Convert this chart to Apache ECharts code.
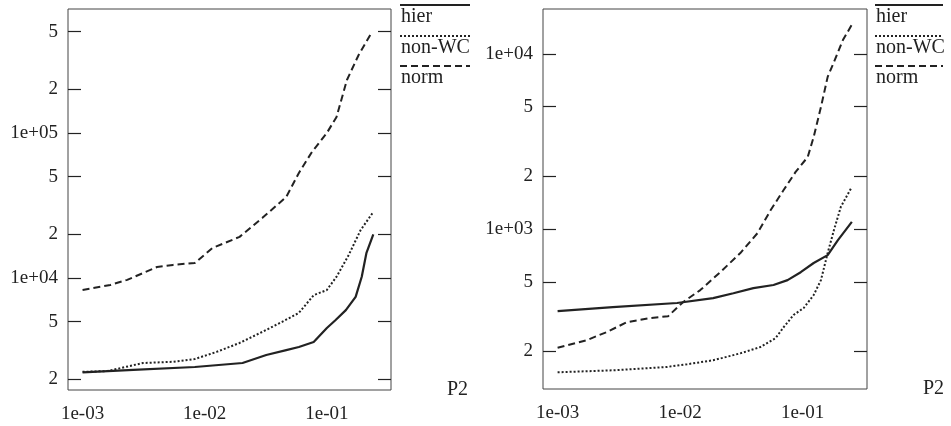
<!DOCTYPE html>
<html>
<head>
<meta charset="utf-8">
<script src="https://cdn.jsdelivr.net/npm/echarts@6/dist/echarts.min.js"></script>
<style>
  html, body { margin: 0; padding: 0; background: #fff; }
  #chart { width: 951px; height: 426px; }
</style>
</head>
<body>
<div id="chart"></div>
<script>
// left panel (P2 vs cost, large scale)
var leftNormX = [0.001, 0.00169, 0.00232, 0.00407, 0.0055, 0.0083, 0.0116, 0.0193, 0.0297, 0.0465, 0.059, 0.0755, 0.1, 0.12, 0.146, 0.182, 0.235]
var leftNormY = [8260, 8950, 9700, 11900, 12300, 12700, 16100, 19200, 26000, 36200, 53000, 74000, 100000, 129000, 232000, 345000, 500000]
var leftNonWcX = [0.001, 0.0016, 0.00313, 0.0055, 0.0083, 0.0125, 0.0193, 0.0297, 0.043, 0.059, 0.078, 0.1, 0.12, 0.151, 0.189, 0.24]
var leftNonWcY = [2250, 2280, 2590, 2640, 2760, 3090, 3560, 4250, 4980, 5740, 7600, 8260, 10200, 14400, 21400, 28500]
var leftHierX = [0.001, 0.0026, 0.0083, 0.0204, 0.0319, 0.0465, 0.059, 0.078, 0.1, 0.118, 0.143, 0.172, 0.193, 0.211, 0.24]
var leftHierY = [2230, 2320, 2430, 2590, 2940, 3180, 3340, 3620, 4520, 5130, 6000, 7400, 10200, 14900, 20000]

// right panel
var rightNormX = [0.001, 0.00173, 0.00252, 0.00368, 0.00568, 0.00798, 0.0106, 0.0146, 0.0213, 0.031, 0.0428, 0.0547, 0.0699, 0.0876, 0.11, 0.123, 0.141, 0.16, 0.18, 0.213, 0.252]
var rightNormY = [210, 232, 258, 294, 310, 318, 383, 448, 568, 729, 948, 1280, 1670, 2120, 2580, 3360, 4980, 7400, 9000, 12000, 14700]
var rightNonWcX = [0.001, 0.00282, 0.0078, 0.0114, 0.0186, 0.031, 0.0453, 0.06, 0.07, 0.0843, 0.102, 0.123, 0.141, 0.16, 0.18, 0.205, 0.252]
var rightNonWcY = [152, 156, 163, 169, 178, 195, 212, 238, 275, 323, 354, 420, 511, 730, 987, 1340, 1740]
var rightHierX = [0.001, 0.00282, 0.00944, 0.0186, 0.0272, 0.0396, 0.0578, 0.0753, 0.0964, 0.123, 0.16, 0.194, 0.252]
var rightHierY = [340, 358, 378, 403, 430, 460, 479, 511, 567, 640, 710, 865, 1100]

var xTicks = [0.001, 0.01, 0.1]
var leftYTicks = [2000, 5000, 10000, 20000, 50000, 100000, 200000, 500000]
var rightYTicks = [200, 500, 1000, 2000, 5000, 10000]
var seriesNames = ['hier', 'non-WC', 'norm']

var font = '"Liberation Serif", "DejaVu Serif", serif'
var ink = '#222'

function pairs(xs, ys) {
    return xs.map(function(x, i) { return [x, ys[i]] })
}

function powLabel(value) {
    var e = Math.round(Math.log10(value))
    var sign = e < 0 ? '-' : '+'
    var a = Math.abs(e)
    return '1e' + sign + (a < 10 ? '0' + a : a)
}

function yLabel(value) {
    var e = Math.floor(Math.log10(value) + 1e-9)
    var lead = Math.round(value / Math.pow(10, e))
    return lead === 1 ? powLabel(value) : String(lead)
}

function makeX(grid, min, max) {
    return {
        type: 'log', gridIndex: grid, min: min, max: max,
        name: 'P2', nameLocation: 'end', nameGap: 56,
        nameTextStyle: { fontFamily: font, fontSize: 20, color: ink, verticalAlign: 'middle' },
        axisLine: { show: false },
        axisTick: { show: false },
        splitLine: { show: false },
        axisLabel: {
            customValues: xTicks, formatter: powLabel, margin: 15,
            fontFamily: font, fontSize: 19, color: ink
        }
    }
}

function makeY(grid, min, max, ticks, side) {
    return {
        type: 'log', gridIndex: grid, min: min, max: max, position: side,
        axisLine: { show: false },
        splitLine: { show: false },
        axisTick: { show: true, inside: true, length: 13, customValues: ticks, lineStyle: { color: ink, width: 1.2 } },
        axisLabel: {
            show: side === 'left', customValues: ticks, formatter: yLabel, margin: 10,
            fontFamily: font, fontSize: 19, color: ink
        }
    }
}

var styles = [
    { type: 'solid', width: 2.2 },
    { type: [2, 2], width: 2 },
    { type: [7, 4], width: 2 }
]

function makeSeries(grid, data) {
    return data.map(function(d, i) {
        return {
            name: seriesNames[i], type: 'line', xAxisIndex: grid, yAxisIndex: grid * 2,
            showSymbol: false, silent: true, animation: false,
            lineStyle: { color: ink, width: styles[i].width, type: styles[i].type },
            data: d
        }
    })
}

function legendGraphic(x0, x1) {
    var out = []
    var lineY = [5, 36, 66]
    var textY = [17, 48, 78]
    seriesNames.forEach(function(name, i) {
        out.push({
            type: 'line', shape: { x1: x0, y1: lineY[i], x2: x1, y2: lineY[i] },
            style: { stroke: ink, lineWidth: styles[i].width, lineDash: styles[i].type === 'solid' ? null : styles[i].type }
        })
        out.push({
            type: 'text', x: x0 + 1, y: textY[i],
            style: { text: name, fill: ink, font: '20px ' + font, verticalAlign: 'middle' }
        })
    })
    return out
}

var chart = echarts.init(document.getElementById('chart'))

chart.setOption({
    backgroundColor: '#fff',
    animation: false,
    grid: [
        { left: 68, right: 560, top: 9, bottom: 36, show: true, borderColor: '#444', borderWidth: 1 },
        { left: 543, right: 84, top: 9, bottom: 37, show: true, borderColor: '#444', borderWidth: 1 }
    ],
    xAxis: [makeX(0, 0.00076, 0.335), makeX(1, 0.00076, 0.335)],
    yAxis: [
        makeY(0, 1687, 716000, leftYTicks, 'left'),
        makeY(0, 1687, 716000, leftYTicks, 'right'),
        makeY(1, 122, 18070, rightYTicks, 'left'),
        makeY(1, 122, 18070, rightYTicks, 'right')
    ],
    series: makeSeries(0, [pairs(leftHierX, leftHierY), pairs(leftNonWcX, leftNonWcY), pairs(leftNormX, leftNormY)])
        .concat(makeSeries(1, [pairs(rightHierX, rightHierY), pairs(rightNonWcX, rightNonWcY), pairs(rightNormX, rightNormY)])),
    graphic: legendGraphic(400, 470).concat(legendGraphic(875, 943))
})
</script>
</body>
</html>
